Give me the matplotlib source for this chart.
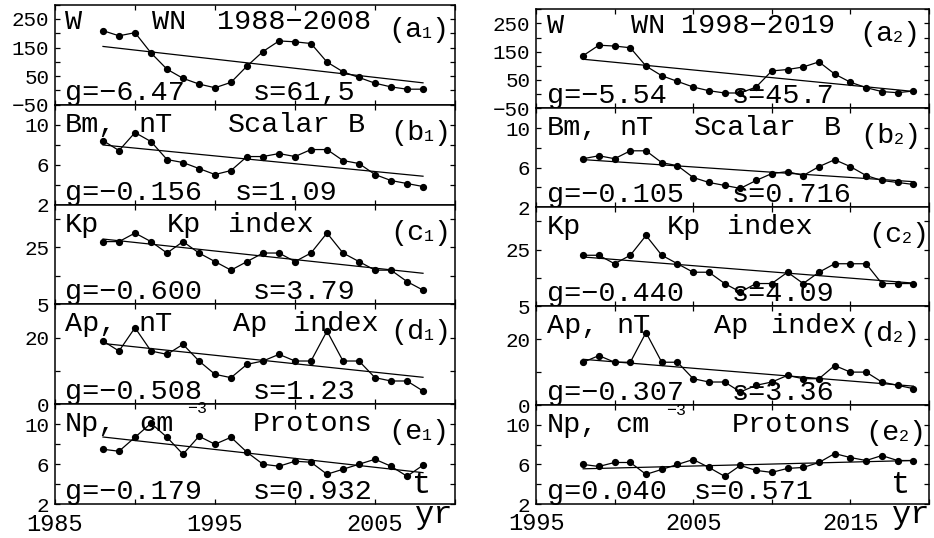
import numpy as np
import matplotlib
matplotlib.use("Agg")
import matplotlib.pyplot as plt

plt.rcParams['font.family'] = ['Liberation Mono', 'DejaVu Sans']

# ---- data ----
yr1 = np.arange(1988, 2009)
yr2 = np.arange(1998, 2020)

w1 = [209, 191, 202, 131, 74, 42, 22, 9, 28, 85, 136, 173, 170, 164, 99, 65, 45, 25, 12, 4, 4]
bm1 = [8.4, 7.4, 9.2, 8.3, 6.5, 6.2, 5.6, 5.0, 5.4, 6.8, 6.8, 7.1, 6.8, 7.5, 7.5, 6.4, 6.1, 5.0, 4.4, 4.1, 3.8]
kp1 = [27, 27, 30, 27, 23, 27, 23, 20, 17, 20, 23, 23, 20, 23, 30, 23, 20, 17, 17, 13, 10]
ap1 = [19, 16, 23, 16, 15, 18, 13, 9, 8, 12, 13, 15, 13, 13, 22, 13, 13, 8, 7, 7, 4]
np1 = [7.5, 7.3, 8.7, 10.1, 8.7, 7.0, 8.8, 8.0, 8.7, 7.2, 6.0, 5.8, 6.3, 6.2, 5.0, 5.5, 6.0, 6.5, 5.8, 4.8, 5.9]

w2 = [136, 173, 170, 164, 99, 65, 45, 25, 12, 4, 4, 25, 82, 87, 96, 114, 71, 42, 23, 9, 5, 11]
bm2 = [6.9, 7.2, 6.9, 7.7, 7.7, 6.5, 6.2, 5.0, 4.5, 4.2, 3.9, 4.7, 5.4, 5.6, 5.2, 6.1, 6.8, 6.1, 5.2, 4.7, 4.5, 4.3]
kp2 = [23, 23, 20, 23, 30, 23, 20, 17, 17, 13, 10, 13, 13, 17, 13, 17, 20, 20, 20, 13, 13, 13]
ap2 = [13, 15, 13, 13, 22, 13, 13, 8, 7, 7, 4, 6, 7, 9, 8, 8, 12, 10, 10, 7, 6, 5]
np2 = [6.0, 5.8, 6.2, 6.2, 5.0, 5.5, 6.0, 6.5, 5.7, 4.8, 5.9, 5.4, 5.2, 5.6, 5.7, 6.2, 7.1, 6.7, 6.4, 6.9, 6.4, 6.4]

g1 = ['g=−6.47', 'g=−0.156', 'g=−0.600', 'g=−0.508', 'g=−0.179']
s1 = ['s=61,5', 's=1.09', 's=3.79', 's=1.23', 's=0.932']
g2 = ['g=−5.54', 'g=−0.105', 'g=−0.440', 'g=−0.307', 'g=0.040']
s2 = ['s=45.7', 's=0.716', 's=4.09', 's=3.36', 's=0.571']

letters = ['a', 'b', 'c', 'd', 'e']

words1 = [[(10, 'W'), (97, 'WN'), (162, '1988−2008')],
          [(10, 'Bm,'), (83, 'nT'), (173, 'Scalar'), (293, 'B')],
          [(10, 'Kp'), (112, 'Kp'), (173, 'index')],
          [(10, 'Ap,'), (83, 'nT'), (178, 'Ap'), (238, 'index')],
          [(10, 'Np,'), (84, 'cm'), (198, 'Protons')]]
words2 = [[(11, 'W'), (95, 'WN'), (145, '1998−2019')],
          [(11, 'Bm,'), (83, 'nT'), (158, 'Scalar'), (288, 'B')],
          [(11, 'Kp'), (131, 'Kp'), (191, 'index')],
          [(11, 'Ap,'), (80, 'nT'), (178, 'Ap'), (235, 'index')],
          [(11, 'Np,'), (79, 'cm'), (196, 'Protons')]]

ylims = [(-50, 300), (2, 12), (5, 40), (0, 30), (2, 12)]
ymaj = [[-50, 50, 150, 250], [2, 6, 10], [5, 25], [0, 20], [2, 6, 10]]
ymin = [[0, 100, 200, 300], [4, 8, 12], [15, 35], [10, 30], [4, 8, 12]]

W, H = 934, 538
FS = 20.5
CW = 0.6 * FS * 100 / 72   # char width in px (mono font)
fig = plt.figure(figsize=(W / 100, H / 100), dpi=100)


def column(x0, wpx, top, hpx, years, series, words, sub, tag_x, gs, ss, s_dx,
           xlim, xmaj, xmin, sup_pos, t_pos):
    for i in range(5):
        y0 = H - (top + (i + 1) * hpx)
        ax = fig.add_axes([x0 / W, y0 / H, wpx / W, hpx / H])
        vals = series[i]
        ax.plot(years, vals, '-o', color='k', lw=0.9, ms=4.2)
        p = np.polyfit(years, vals, 1)
        ax.plot([years[0], years[-1]], np.polyval(p, [years[0], years[-1]]), color='k', lw=0.9)
        ax.set_xlim(*xlim)
        ax.set_ylim(*ylims[i])
        ax.set_xticks(xmaj)
        ax.set_xticks(xmin, minor=True)
        ax.set_yticks(ymaj[i])
        ax.set_yticks(ymin[i], minor=True)
        ax.tick_params(which='both', direction='in', top=True, right=True,
                       length=3.6, width=0.9, labelsize=15, pad=4)
        ax.tick_params(axis='x', labelsize=17, pad=6)
        if i < 4:
            ax.set_xticklabels([])
        for sp in ax.spines.values():
            sp.set_linewidth(1.1)
        lab_dy = 24 if i == 0 else 27
        tag_dy = 32 if i == 0 else 35
        for dx, w in words[i]:
            ax.text(dx / wpx, 1 - lab_dy / hpx, w, transform=ax.transAxes,
                    fontsize=FS, va='baseline', ha='left')
        # panel tag, e.g. (a1) with a small subscript digit
        tx = tag_x[i]
        ax.text(tx / wpx, 1 - tag_dy / hpx, '(' + letters[i], transform=ax.transAxes,
                fontsize=FS, va='baseline', ha='left')
        ax.text((tx + 2 * CW) / wpx, 1 - (tag_dy + 1) / hpx, sub, transform=ax.transAxes,
                fontsize=12, va='baseline', ha='left')
        ax.text((tx + 2 * CW + 9) / wpx, 1 - tag_dy / hpx, ')', transform=ax.transAxes,
                fontsize=FS, va='baseline', ha='left')
        ax.text(words[i][0][0] / wpx, 5 / hpx, gs[i], transform=ax.transAxes,
                fontsize=FS, va='baseline', ha='left')
        ax.text(s_dx[i] / wpx, 5 / hpx, ss[i], transform=ax.transAxes,
                fontsize=FS, va='baseline', ha='left')
        if i == 4:
            ax.text(sup_pos[0] / wpx, 1 - sup_pos[1] / hpx, '−3', transform=ax.transAxes,
                    fontsize=12, va='baseline', ha='left')
            ax.text(t_pos[0] / wpx, t_pos[1] / hpx, 't', transform=ax.transAxes,
                    fontsize=23, va='baseline', ha='left')


column(55, 400, 4.7, 99.9, yr1, [w1, bm1, kp1, ap1, np1], words1, '1',
       [333, 335, 335, 335, 333], g1, s1, [198, 180, 198, 198, 198],
       (1985, 2010), [1985, 1995, 2005], [1990, 2000, 2010], (132, 9), (357, 11))
column(536, 393, 9.3, 98.95, yr2, [w2, bm2, kp2, ap2, np2], words2, '2',
       [323, 324, 332, 323, 329], g2, s2, [196, 196, 196, 196, 158],
       (1995, 2020), [1995, 2005, 2015], [2000, 2010, 2020], (130, 9.5), (355, 11))

fig.text(415 / W, 1 - 523 / H, 'yr', fontsize=23, va='baseline', ha='left')
fig.text(892 / W, 1 - 523 / H, 'yr', fontsize=23, va='baseline', ha='left')

fig.savefig('out.png', dpi=100)
